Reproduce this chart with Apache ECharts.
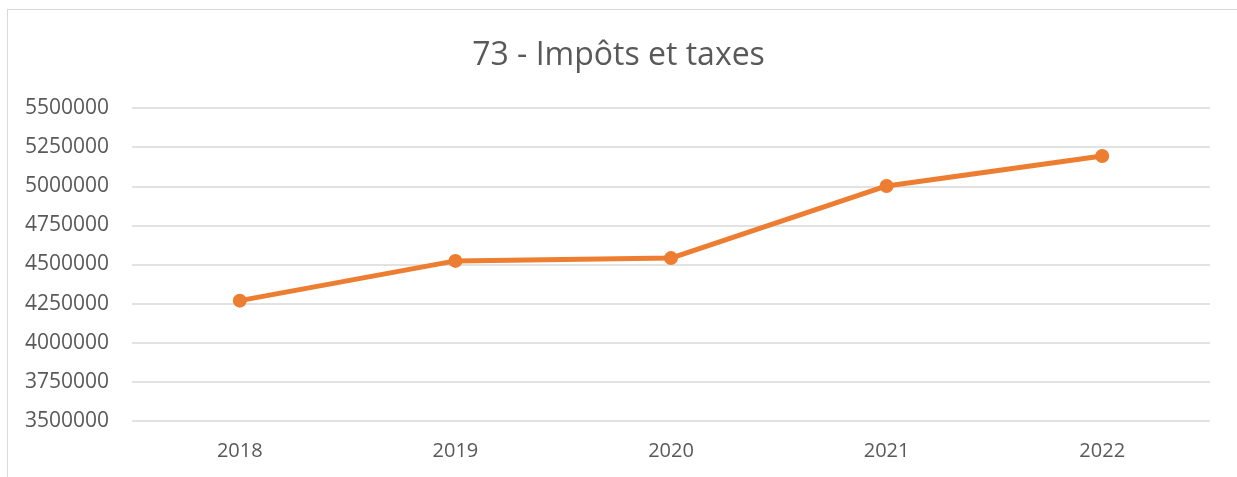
<!DOCTYPE html>
<html>
<head>
<meta charset="utf-8">
<script src="https://cdn.jsdelivr.net/npm/echarts@6/dist/echarts.min.js"></script>
<style>
  html, body { margin: 0; padding: 0; background: #fff; }
  #frame { position: absolute; left: 7px; top: 9px; width: 1240px; height: 480px;
           border-left: 1px solid #d9d9d9; border-top: 1px solid #d9d9d9; }
  #chart { position: absolute; left: 0; top: 0; width: 1237px; height: 477px; }
</style>
</head>
<body>
<div id="frame"></div>
<div id="chart"></div>
<script>
  const years = ['2018', '2019', '2020', '2021', '2022'];
  const impots = [4269000, 4523000, 4541000, 5002000, 5193000];

  const textColor = '#595959';
  const gridColor = '#d9d9d9';
  const lineColor = '#ed7d31';
  const font = 'Open Sans, Liberation Sans, sans-serif';

  const chart = echarts.init(document.getElementById('chart'));
  chart.setOption({
    animation: false,
    title: {
      text: '73 - Impôts et taxes',
      left: 'center',
      top: 35,
      textStyle: { color: textColor, fontSize: 32, fontWeight: 'normal', fontFamily: font }
    },
    grid: { left: 132, right: 27, top: 108, bottom: 56 },
    xAxis: {
      type: 'category',
      data: years,
      boundaryGap: true,
      axisLine: { show: false },
      axisTick: { show: false },
      axisLabel: { color: textColor, fontSize: 20, fontFamily: font, margin: 20 }
    },
    yAxis: {
      type: 'value',
      min: 3500000,
      max: 5500000,
      interval: 250000,
      axisLine: { show: false },
      axisTick: { show: false },
      axisLabel: {
        color: textColor, fontSize: 21, fontFamily: font, margin: 23,
        formatter: (v) => String(v)
      },
      splitLine: { lineStyle: { color: gridColor, width: 1.5 } }
    },
    series: [{
      type: 'line',
      data: impots,
      symbol: 'circle',
      symbolSize: 14,
      lineStyle: { color: lineColor, width: 5 },
      itemStyle: { color: lineColor }
    }]
  });
</script>
</body>
</html>
